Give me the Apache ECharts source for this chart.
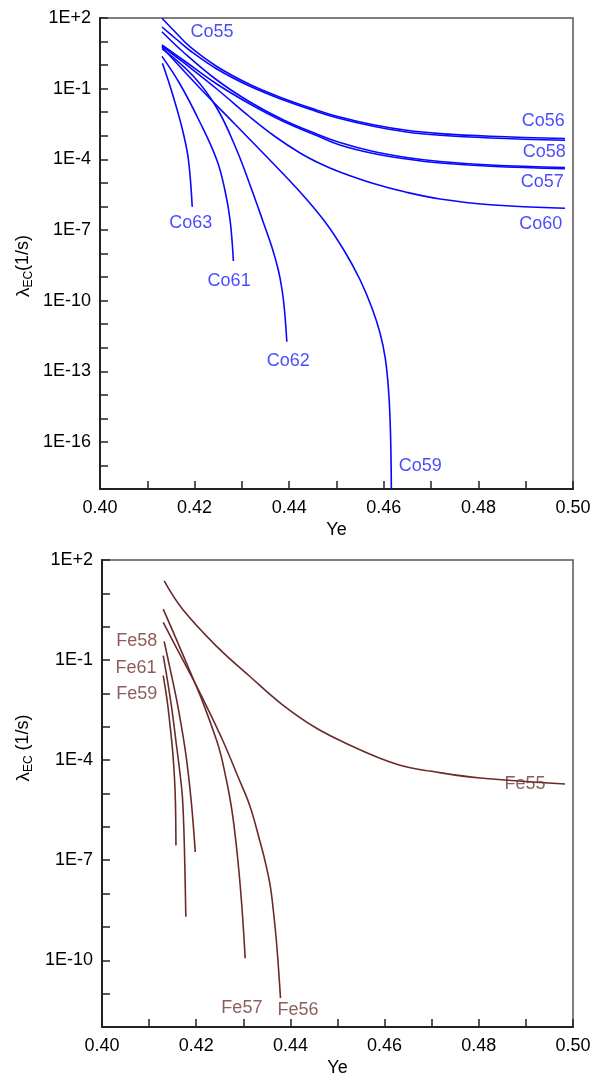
<!DOCTYPE html>
<html>
<head>
<meta charset="utf-8">
<script src="https://cdn.jsdelivr.net/npm/echarts@6/dist/echarts.min.js"></script>
<style>
html,body{margin:0;padding:0;background:#fff;}
#c{width:604px;height:1078px;}
</style>
</head>
<body>
<div id="c"></div>
<script>
// ---- data: [Ye, log10(lambda_EC / s^-1)] ----
const co55 = [[0.4131,1.987],[0.4161,1.363],[0.4190,0.781],[0.4247,-0.059],[0.4317,-0.824],[0.4388,-1.418],[0.4458,-1.907],[0.4507,-2.204],[0.4578,-2.535],[0.4648,-2.769],[0.4719,-2.909],[0.4825,-3.023],[0.4983,-3.117]];
const co56 = [[0.4131,1.618],[0.4161,1.108],[0.4190,0.620],[0.4247,-0.166],[0.4317,-0.900],[0.4388,-1.482],[0.4458,-1.970],[0.4507,-2.268],[0.4578,-2.599],[0.4648,-2.841],[0.4719,-2.981],[0.4825,-3.096],[0.4983,-3.193]];
const co57 = [[0.4131,1.418],[0.4176,0.556],[0.4247,-0.633],[0.4317,-1.567],[0.4388,-2.331],[0.4458,-2.926],[0.4507,-3.287],[0.4578,-3.669],[0.4648,-3.924],[0.4719,-4.093],[0.4825,-4.242],[0.4983,-4.348]];
const co58 = [[0.4131,0.854],[0.4176,0.217],[0.4247,-0.803],[0.4317,-1.652],[0.4388,-2.395],[0.4458,-2.989],[0.4507,-3.393],[0.4578,-3.754],[0.4648,-3.987],[0.4719,-4.157],[0.4825,-4.297],[0.4983,-4.403]];
const co60 = [[0.4131,0.811],[0.4175,0.132],[0.4247,-1.015],[0.4317,-2.204],[0.4370,-3.032],[0.4423,-3.732],[0.4465,-4.178],[0.4507,-4.539],[0.4578,-5.028],[0.4648,-5.401],[0.4719,-5.686],[0.4825,-5.928],[0.4983,-6.081]];
const co59 = [[0.4131,0.769],[0.4211,-0.972],[0.4285,-2.501],[0.4355,-3.945],[0.4423,-5.389],[0.4476,-6.662],[0.4518,-7.936],[0.4550,-9.125],[0.4575,-10.314],[0.4592,-11.376],[0.4603,-12.437],[0.4610,-13.796],[0.4614,-15.495],[0.4616,-18.000]];
const co62 = [[0.4131,0.701],[0.4197,-0.463],[0.4247,-1.822],[0.4289,-3.605],[0.4321,-5.304],[0.4345,-6.662],[0.4364,-7.766],[0.4377,-8.701],[0.4385,-9.550],[0.4390,-10.399],[0.4395,-11.745]];
const co61 = [[0.4131,0.369],[0.4169,-0.803],[0.4211,-2.416],[0.4247,-4.030],[0.4264,-5.304],[0.4275,-6.577],[0.4282,-8.318]];
const co63 = [[0.4132,0.076],[0.4148,-0.887],[0.4162,-1.822],[0.4176,-2.883],[0.4187,-4.030],[0.4195,-6.013]];

const fe55 = [[0.4132,1.373],[0.4172,0.507],[0.4244,-0.597],[0.4314,-1.493],[0.4382,-2.328],[0.4452,-3.015],[0.4522,-3.522],[0.4590,-3.940],[0.4643,-4.188],[0.4696,-4.328],[0.4803,-4.537],[0.4983,-4.716]];
const fe57 = [[0.4130,0.528],[0.4159,-0.418],[0.4187,-1.343],[0.4215,-2.299],[0.4244,-3.433],[0.4253,-3.881],[0.4261,-4.388],[0.4270,-5.015],[0.4279,-5.821],[0.4289,-7.075],[0.4297,-8.388],[0.4304,-9.940]];
const fe56 = [[0.4130,0.128],[0.4159,-0.657],[0.4187,-1.403],[0.4219,-2.299],[0.4258,-3.463],[0.4289,-4.507],[0.4314,-5.373],[0.4335,-6.418],[0.4346,-7.015],[0.4357,-7.752],[0.4364,-8.537],[0.4371,-9.543],[0.4379,-11.134]];
const fe58 = [[0.4132,-0.439],[0.4144,-1.224],[0.4157,-2.090],[0.4169,-3.015],[0.4180,-4.030],[0.4190,-5.313],[0.4198,-6.755]];
const fe61 = [[0.4130,-0.866],[0.4140,-1.701],[0.4149,-2.537],[0.4157,-3.433],[0.4165,-4.328],[0.4171,-5.164],[0.4175,-6.657],[0.4178,-8.696]];
const fe59 = [[0.4130,-1.463],[0.4138,-2.179],[0.4144,-2.896],[0.4150,-3.731],[0.4154,-4.567],[0.4156,-5.313],[0.4157,-6.558]];

// label anchor points (data coords)
const coLabels = [['Co55',0.4237,1.41],['Co56',0.4937,-2.37],['Co58',0.4939,-3.69],['Co57',0.4935,-4.96],['Co60',0.4932,-6.75],['Co63',0.4192,-6.70],['Co61',0.4273,-9.17],['Co62',0.4398,-12.56],['Co59',0.4677,-17.02]];
const feLabels = [['Fe58',0.4074,-0.42],['Fe61',0.4072,-1.25],['Fe59',0.4074,-2.03],['Fe55',0.4898,-4.72],['Fe57',0.4297,-11.43],['Fe56',0.4416,-11.49]];

const xTicks = {min:0.40, max:0.50, step:0.01};
const yTop = {min:-18, max:2};
const yBot = {min:-12, max:2};

const FONT = "'Liberation Sans', Arial, sans-serif";
const blue = '#0808ff', blueTxt = '#1c1cff';
const brown = '#6b2a2a', brownTxt = '#703434';

function yFmt(v){ const k=Math.round(v); if(((2-k)%3+3)%3!==0) return ''; return '1E'+(k>=0?'+':'-')+Math.abs(k); }
function xFmt(v){ const i=Math.round((v-0.4)*100); return i%2===0 ? v.toFixed(2) : ''; }

function xAxis(gi){
  return {type:'value', gridIndex:gi, min:xTicks.min, max:xTicks.max, interval:xTicks.step,
    name:'Ye', nameLocation:'middle', nameGap:32, nameTextStyle:{fontFamily:FONT,fontSize:18,color:'#000'},
    axisLine:{show:true,onZero:false,lineStyle:{color:'#222',width:2}},
    axisTick:{inside:true,length:8,lineStyle:{color:'#222',width:1.5}},
    axisLabel:{formatter:xFmt,fontFamily:FONT,fontSize:18,color:'#000',margin:10,hideOverlap:false},
    splitLine:{show:false}};
}
function yAxis(gi,r){
  return {type:'value', gridIndex:gi, min:r.min, max:r.max, interval:1,
    axisLine:{show:true,onZero:false,lineStyle:{color:'#222',width:2}},
    axisTick:{inside:true,length:8,lineStyle:{color:'#222',width:1.5}},
    axisLabel:{formatter:yFmt,fontFamily:FONT,fontSize:18,color:'#000',margin:9,hideOverlap:false},
    splitLine:{show:false}};
}
function line(data,gi,color){
  return {type:'line', xAxisIndex:gi, yAxisIndex:gi, data:data, showSymbol:false, symbol:'none',
    smooth:0.4, lineStyle:{color:color,width:1.6}, silent:true, z:3};
}
function labels(list,gi,color){
  return {type:'scatter', xAxisIndex:gi, yAxisIndex:gi, symbolSize:0, silent:true, z:5,
    data:list.map(d=>({name:d[0], value:[d[1],d[2]]})),
    label:{show:true, position:'inside', formatter:'{b}', fontFamily:FONT, fontSize:18, color:color}};
}

const chart = echarts.init(document.getElementById('c'), null, {renderer:'canvas'});
const rich = {
  l:{fontFamily:FONT,fontSize:19,color:'#000',lineHeight:22,verticalAlign:'top'},
  s:{fontFamily:FONT,fontSize:12,color:'#000',lineHeight:22,verticalAlign:'top',padding:[9,0,0,0]},
  n:{fontFamily:FONT,fontSize:18,color:'#000',lineHeight:22,verticalAlign:'top'}
};
chart.setOption({
  animation:false,
  backgroundColor:'#fff',
  grid:[
    {left:100, top:18, width:473, height:471, show:true, borderColor:'#555', borderWidth:1.5, backgroundColor:'transparent'},
    {left:102, top:560, width:471, height:469, show:true, borderColor:'#555', borderWidth:1.5, backgroundColor:'transparent'}
  ],
  xAxis:[xAxis(0), xAxis(1)],
  yAxis:[yAxis(0,yTop), yAxis(1,yBot)],
  series:[
    line(co55,0,blue), line(co56,0,blue), line(co57,0,blue), line(co58,0,blue), line(co60,0,blue),
    line(co59,0,blue), line(co62,0,blue), line(co61,0,blue), line(co63,0,blue),
    labels(coLabels,0,blueTxt),
    line(fe55,1,brown), line(fe57,1,brown), line(fe56,1,brown), line(fe58,1,brown), line(fe61,1,brown), line(fe59,1,brown),
    labels(feLabels,1,brownTxt)
  ],
  graphic:[
    {type:'text', x:25, y:266, rotation:Math.PI/2, style:{text:'{l|λ}{s|EC}{n|(1/s)}', rich:rich, align:'center', verticalAlign:'middle'}},
    {type:'text', x:25, y:748, rotation:Math.PI/2, style:{text:'{l|λ}{s|EC}{n| (1/s)}', rich:rich, align:'center', verticalAlign:'middle'}}
  ]
});
</script>
</body>
</html>
